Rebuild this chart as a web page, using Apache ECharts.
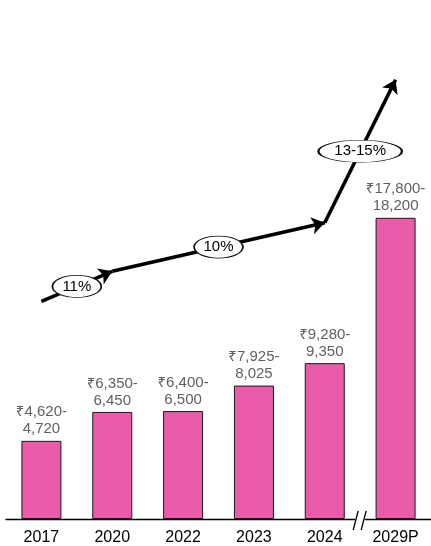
<!DOCTYPE html>
<html>
<head>
<meta charset="utf-8">
<script src="https://cdn.jsdelivr.net/npm/echarts@6/dist/echarts.min.js"></script>
<style>
  html, body { margin: 0; padding: 0; background: #fff; }
  #marketChart { width: 431px; height: 546px; }
</style>
</head>
<body>
<div id="marketChart"></div>
<script>
// market size ranges (₹ billion) per year
const years = ['2017', '2020', '2022', '2023', '2024', '2029P'];
const sizeLow = [4620, 6350, 6400, 7925, 9280, 17800];
const sizeHigh = [4720, 6450, 6500, 8025, 9350, 18200];
const barValues = [4670, 6400, 6450, 7975, 9315, 18000];

// growth arrow: category index + height on the same value scale
const trendX = [0, 1, 4, 5];
const trendY = [13000, 14800, 17700, 26250];
const cagrLabels = ['11%', '10%', '13-15%'];

const fontFamily = '"Liberation Sans", "Noto Sans", Arial, sans-serif';
const fmt = n => n.toLocaleString('en-US');
// ellipse drawn with beziers so it stretches to symbolSize
const ellipsePath = 'path://M0,50 C0,22 22,0 50,0 C78,0 100,22 100,50 C100,78 78,100 50,100 C22,100 0,78 0,50 Z';

let segments = [];
let cagrPoints = [];
for (let i = 0; i < trendX.length - 1; i++) {
  segments.push({ coords: [[trendX[i], trendY[i]], [trendX[i + 1], trendY[i + 1]]] });
  cagrPoints.push({
    value: [(trendX[i] + trendX[i + 1]) / 2, (trendY[i] + trendY[i + 1]) / 2],
    name: cagrLabels[i]
  });
}

let myChart = echarts.init(document.getElementById('marketChart'));
myChart.setOption({
  animation: false,
  textStyle: { fontFamily: fontFamily },
  grid: { left: 6, right: 0, top: 17, bottom: 25, containLabel: false },
  xAxis: [
    {
      type: 'category',
      data: years,
      axisTick: { show: false },
      axisLine: { show: true, lineStyle: { color: '#000', width: 1.3 } },
      axisLabel: { color: '#000', fontSize: 16, margin: 11, fontFamily: fontFamily }
    },
    // hidden helper axis so the arrow can sit on category centres
    { type: 'value', min: -0.5, max: years.length - 0.5, show: false }
  ],
  yAxis: {
    type: 'value',
    min: 0,
    max: 30000,
    show: false,
    splitLine: { show: false }
  },
  series: [
    {
      type: 'bar',
      data: barValues,
      barWidth: 40,
      itemStyle: { color: '#EA5BAA', borderColor: '#1a1a1a', borderWidth: 1 },
      label: {
        show: true,
        position: 'top',
        distance: 3,
        color: '#5f5f5f',
        fontSize: 15,
        lineHeight: 17,
        fontFamily: fontFamily,
        formatter: p => '₹' + fmt(sizeLow[p.dataIndex]) + '-\n' + fmt(sizeHigh[p.dataIndex])
      }
    },
    {
      type: 'lines',
      coordinateSystem: 'cartesian2d',
      xAxisIndex: 1,
      yAxisIndex: 0,
      symbol: ['none', 'arrow'],
      symbolSize: [10, 13],
      lineStyle: { color: '#000', width: 3.6, opacity: 1, curveness: 0 },
      data: segments,
      z: 3
    },
    {
      type: 'scatter',
      xAxisIndex: 1,
      yAxisIndex: 0,
      data: cagrPoints,
      symbol: ellipsePath,
      symbolKeepAspect: false,
      symbolSize: (val, p) => [14 + 11.6 * p.name.length, 22],
      itemStyle: { color: '#fff', borderColor: '#111', borderWidth: 1.2, opacity: 1 },
      label: {
        show: true,
        position: 'inside',
        color: '#000',
        fontSize: 15,
        fontFamily: fontFamily,
        formatter: p => p.name
      },
      z: 4
    }
  ]
});

// axis break marker between 2024 and 2029P
const brk = myChart.convertToPixel({ xAxisIndex: 1, yAxisIndex: 0 }, [4.5, 0]);
myChart.setOption({
  graphic: [
    { type: 'rect', shape: { x: brk[0] - 5, y: brk[1] - 2, width: 10, height: 4 }, style: { fill: '#fff' }, z: 10 },
    { type: 'line', shape: { x1: brk[0] - 7, y1: brk[1] + 11, x2: brk[0] - 2, y2: brk[1] - 8 }, style: { stroke: '#000', lineWidth: 1.3 }, z: 11 },
    { type: 'line', shape: { x1: brk[0] + 1, y1: brk[1] + 11, x2: brk[0] + 6, y2: brk[1] - 8 }, style: { stroke: '#000', lineWidth: 1.3 }, z: 11 }
  ]
});
</script>
</body>
</html>
